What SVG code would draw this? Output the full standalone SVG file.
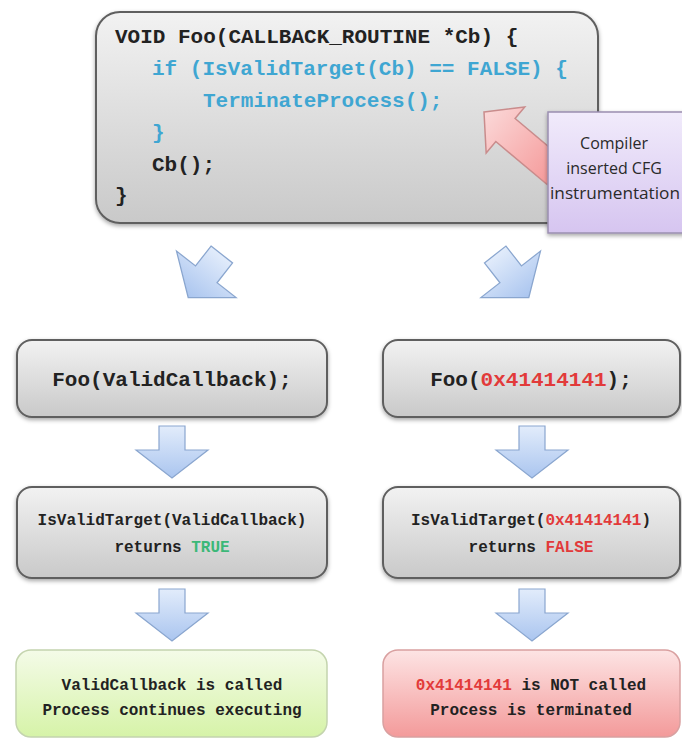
<svg xmlns="http://www.w3.org/2000/svg" width="682" height="741" viewBox="0 0 682 741">
  <defs>
    <linearGradient id="gGray" x1="0" y1="0" x2="0" y2="1">
      <stop offset="0" stop-color="#f2f2f2"/>
      <stop offset="1" stop-color="#c9c9c9"/>
    </linearGradient>
    <linearGradient id="gGreen" x1="0" y1="0" x2="0" y2="1">
      <stop offset="0" stop-color="#f4fbe8"/>
      <stop offset="1" stop-color="#d6f3a8"/>
    </linearGradient>
    <linearGradient id="gRed" x1="0" y1="0" x2="0" y2="1">
      <stop offset="0" stop-color="#fde4e4"/>
      <stop offset="1" stop-color="#f39a9a"/>
    </linearGradient>
    <linearGradient id="gPurple" x1="0" y1="0" x2="0" y2="1">
      <stop offset="0" stop-color="#f1ebfb"/>
      <stop offset="1" stop-color="#d6c5f0"/>
    </linearGradient>
    <linearGradient id="gBlue" x1="0" y1="0" x2="0" y2="1">
      <stop offset="0" stop-color="#e2ecfb"/>
      <stop offset="1" stop-color="#aac5ef"/>
    </linearGradient>
    <linearGradient id="gPink" x1="0" y1="0" x2="0" y2="1">
      <stop offset="0" stop-color="#f59a9a"/>
      <stop offset="1" stop-color="#fbd8d8"/>
    </linearGradient>
    <filter id="shadow" x="-10%" y="-10%" width="120%" height="130%">
      <feDropShadow dx="0" dy="2" stdDeviation="2" flood-color="#000" flood-opacity="0.35"/>
    </filter>
    <!-- block arrow pointing down, centred on the origin -->
    <path id="blockArrow" d="M-13,-26 L13,-26 L13,-2 L36,-2 L0,26 L-36,-2 L-13,-2 Z"/>
  </defs>
  <style>
    .box { fill: url(#gGray); stroke: #5f5f5f; stroke-width: 2; filter: url(#shadow); }
    .ok { fill: url(#gGreen); stroke: #c4d4ae; stroke-width: 1.5; }
    .bad { fill: url(#gRed); stroke: #d9a0a0; stroke-width: 1.5; }
    .note { fill: url(#gPurple); stroke: #9a8fb0; stroke-width: 1.5; filter: url(#shadow); }
    .code { font-family: "Liberation Mono", "Courier New", monospace; font-weight: bold; fill: #222; }
    .kw { fill: #3fa6d2; }
    .red { fill: #e23a3a; }
    .green { fill: #3cb878; }
    .label { font-family: "Open Sans", "Liberation Sans", sans-serif; fill: #2a2a2a; font-size: 16px; }
    .flow use { fill: url(#gBlue); stroke: #8aa6cf; stroke-width: 1.2; }
  </style>
  <rect width="682" height="741" fill="#ffffff"/>

  <!-- function with inserted guard -->
  <g id="foo-source">
    <rect class="box" x="96" y="12" width="502" height="211" rx="24"/>
    <g class="code" font-size="21">
      <text x="115" y="43" xml:space="preserve">VOID Foo(CALLBACK_ROUTINE *Cb) {</text>
      <text x="152" y="75" class="kw" xml:space="preserve">if (IsValidTarget(Cb) == FALSE) {</text>
      <text x="203" y="107" class="kw">TerminateProcess();</text>
      <text x="152" y="139" class="kw">}</text>
      <text x="152" y="171">Cb();</text>
      <text x="115" y="202">}</text>
    </g>
  </g>

  <!-- pointer to the inserted check (tail runs under the note) -->
  <g id="insert-pointer">
    <path d="M0,0 L-30,-28 L-15,-28 L-15,-95 L15,-95 L15,-28 L30,-28 Z" transform="translate(484,112) rotate(130)" fill="url(#gPink)" stroke="#c98c8c" stroke-width="1.5"/>
  </g>

  <g id="cfg-note">
    <rect class="note" x="548" y="112" width="140" height="121"/>
    <text class="label" x="614" y="149" text-anchor="middle">Compiler</text>
    <text class="label" x="614" y="174" text-anchor="middle">inserted CFG</text>
    <text class="label" x="615" y="199" text-anchor="middle" textLength="130" lengthAdjust="spacingAndGlyphs">instrumentation</text>
  </g>

  <!-- flow arrows -->
  <g id="connectors" class="flow">
    <use href="#blockArrow" transform="translate(205,276) rotate(38) scale(1.05)"/>
    <use href="#blockArrow" transform="translate(512,276) rotate(-38) scale(1.05)"/>
    <use href="#blockArrow" transform="translate(172,452)"/>
    <use href="#blockArrow" transform="translate(532,452)"/>
    <use href="#blockArrow" transform="translate(172,615)"/>
    <use href="#blockArrow" transform="translate(532,615)"/>
  </g>

  <g id="call-valid">
    <rect class="box" x="17" y="340" width="310" height="77" rx="15"/>
    <text class="code" x="172" y="386" font-size="21" text-anchor="middle">Foo(ValidCallback);</text>
  </g>
  <g id="call-invalid">
    <rect class="box" x="383" y="340" width="297" height="77" rx="15"/>
    <text class="code" x="531" y="386" font-size="21" text-anchor="middle">Foo(<tspan class="red">0x41414141</tspan>);</text>
  </g>

  <g id="check-valid">
    <rect class="box" x="17" y="487" width="310" height="91" rx="15"/>
    <text class="code" x="172" y="525" font-size="16" text-anchor="middle">IsValidTarget(ValidCallback)</text>
    <text class="code" x="172" y="552" font-size="16" text-anchor="middle">returns <tspan class="green">TRUE</tspan></text>
  </g>
  <g id="check-invalid">
    <rect class="box" x="383" y="487" width="297" height="91" rx="15"/>
    <text class="code" x="531" y="525" font-size="16" text-anchor="middle">IsValidTarget(<tspan class="red">0x41414141</tspan>)</text>
    <text class="code" x="531" y="552" font-size="16" text-anchor="middle">returns <tspan class="red">FALSE</tspan></text>
  </g>

  <g id="result-valid">
    <rect class="ok" x="16" y="650" width="311" height="87" rx="15"/>
    <text class="code" x="172" y="690" font-size="16" text-anchor="middle">ValidCallback is called</text>
    <text class="code" x="172" y="715" font-size="16" text-anchor="middle">Process continues executing</text>
  </g>
  <g id="result-invalid">
    <rect class="bad" x="383" y="650" width="297" height="87" rx="15"/>
    <text class="code" x="531" y="690" font-size="16" text-anchor="middle"><tspan class="red">0x41414141</tspan> is NOT called</text>
    <text class="code" x="531" y="715" font-size="16" text-anchor="middle">Process is terminated</text>
  </g>
</svg>
